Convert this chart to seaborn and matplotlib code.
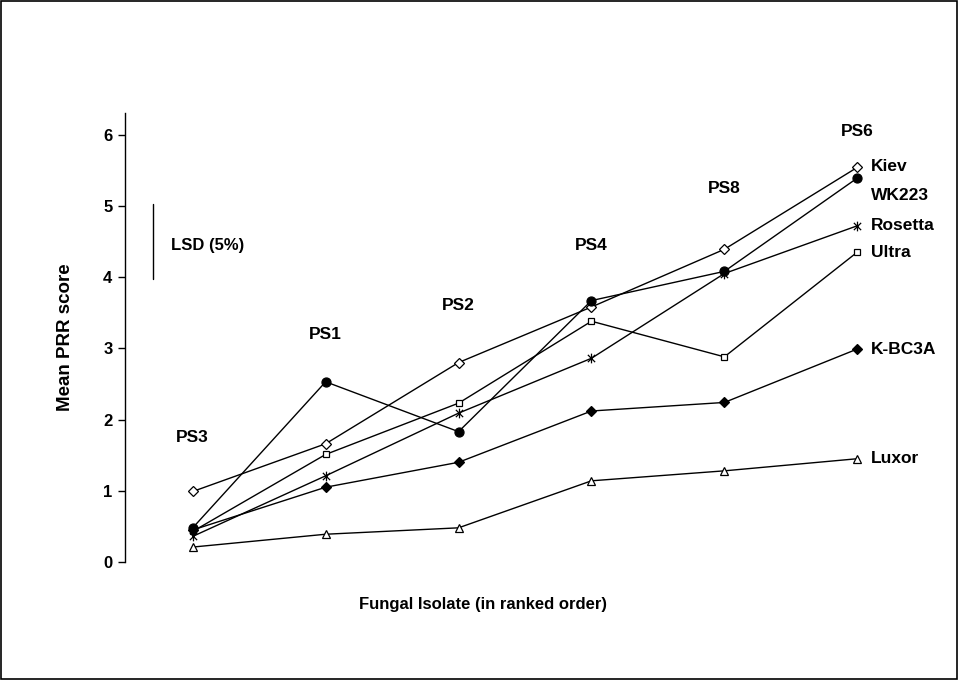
import numpy as np
import pandas as pd
import matplotlib
matplotlib.use("Agg")
import matplotlib.pyplot as plt
from matplotlib.path import Path
from matplotlib.patches import Rectangle
import seaborn as sns

# isolates in ranked order along the x axis
isolates = ["PS3", "PS1", "PS2", "PS4", "PS8", "PS6"]

# mean PRR score of each cultivar on each isolate
kiev = [0.99, 1.66, 2.80, 3.58, 4.39, 5.54]
wk223 = [0.48, 2.53, 1.83, 3.67, 4.08, 5.39]
rosetta = [0.36, 1.21, 2.09, 2.86, 4.05, 4.72]
ultra = [0.43, 1.51, 2.23, 3.38, 2.88, 4.35]
kbc3a = [0.45, 1.05, 1.40, 2.12, 2.24, 2.99]
luxor = [0.21, 0.39, 0.48, 1.14, 1.28, 1.45]

cultivars = ["Kiev", "WK223", "Rosetta", "Ultra", "K-BC3A", "Luxor"]
scores = [kiev, wk223, rosetta, ultra, kbc3a, luxor]

# where each isolate name sits (y value) and the cultivar label offsets
isolate_label_y = [1.75, 3.2, 3.6, 4.45, 5.25, 6.05]
cultivar_label_y = [5.55, 5.15, 4.72, 4.35, 2.99, 1.45]

lsd_low, lsd_high = 3.97, 5.03

# asterisk marker like the spreadsheet one: vertical bar plus an X
asterisk = Path(
    [(0, -1), (0, 1), (-0.75, -0.75), (0.75, 0.75), (-0.75, 0.75), (0.75, -0.75)],
    [Path.MOVETO, Path.LINETO, Path.MOVETO, Path.LINETO, Path.MOVETO, Path.LINETO],
)

styles = {
    "Kiev": dict(marker="D", markerfacecolor="white", markersize=5.5),
    "WK223": dict(marker="o", markerfacecolor="black", markersize=6.5),
    "Rosetta": dict(marker=asterisk, markerfacecolor="none", markersize=7),
    "Ultra": dict(marker="s", markerfacecolor="white", markersize=5),
    "K-BC3A": dict(marker="D", markerfacecolor="black", markersize=5.5),
    "Luxor": dict(marker="^", markerfacecolor="white", markersize=6),
}

rows = []
for name, vals in zip(cultivars, scores):
    for i, (iso, v) in enumerate(zip(isolates, vals)):
        rows.append({"cultivar": name, "isolate": iso, "pos": i, "score": v})
df = pd.DataFrame(rows)

sns.set_theme(style="white")
plt.rcParams["font.family"] = ["Liberation Sans", "DejaVu Sans"]
plt.rcParams["font.weight"] = "bold"
plt.rcParams["text.color"] = "black"
plt.rcParams["axes.labelcolor"] = "black"
plt.rcParams["ytick.color"] = "black"

fig = plt.figure(figsize=(9.59, 6.80), dpi=100)
ax = fig.add_axes([0.1303, 0.1735, 0.808, 0.660])

for name in cultivars:
    sub = df[df["cultivar"] == name]
    sns.lineplot(data=sub, x="pos", y="score", ax=ax, color="black",
                 linewidth=1.0, markeredgecolor="black", markeredgewidth=0.9,
                 **styles[name])

# isolate names above the points
for i, iso in enumerate(isolates):
    ax.text(i, isolate_label_y[i], iso, ha="center", va="center",
            fontsize=12.5, fontweight="bold", color="black")

# cultivar names at the right end of each line
for name, y in zip(cultivars, cultivar_label_y):
    ax.text(5.1, y, name, ha="left", va="center", fontsize=12.5,
            fontweight="bold", color="black", clip_on=False)

# LSD bar
ax.plot([-0.3, -0.3], [lsd_low, lsd_high], color="black", linewidth=1.0)
ax.text(-0.16, 4.45, "LSD (5%)", ha="left", va="center", fontsize=12,
        fontweight="bold", color="black")

ax.set_xlim(-0.51, 5.32)
ax.set_ylim(0, 6.3)
ax.set_xticks([])
ax.set_yticks(range(0, 7))
ax.set_yticklabels([str(t) for t in range(0, 7)], fontsize=12, fontweight="bold")
ax.tick_params(axis="y", direction="out", length=5, width=1, left=True,
               color="black", labelcolor="black", pad=4)
ax.set_xlabel("Fungal Isolate (in ranked order)", fontsize=12,
              fontweight="bold", color="black")
ax.set_ylabel("Mean PRR score", fontsize=13.5, fontweight="bold", color="black")
ax.xaxis.set_label_coords(0.462, -0.077)
ax.yaxis.set_label_coords(-0.066, 0.5)

for side in ["top", "right", "bottom"]:
    ax.spines[side].set_visible(False)
ax.spines["left"].set_color("black")
ax.spines["left"].set_linewidth(1.0)
ax.patch.set_alpha(0)

# frame round the whole picture
fig.patches.append(Rectangle((0.001, 0.001), 0.997, 0.997, transform=fig.transFigure,
                             fill=False, edgecolor="black", linewidth=1.2))

fig.savefig("out.png", dpi=100)
